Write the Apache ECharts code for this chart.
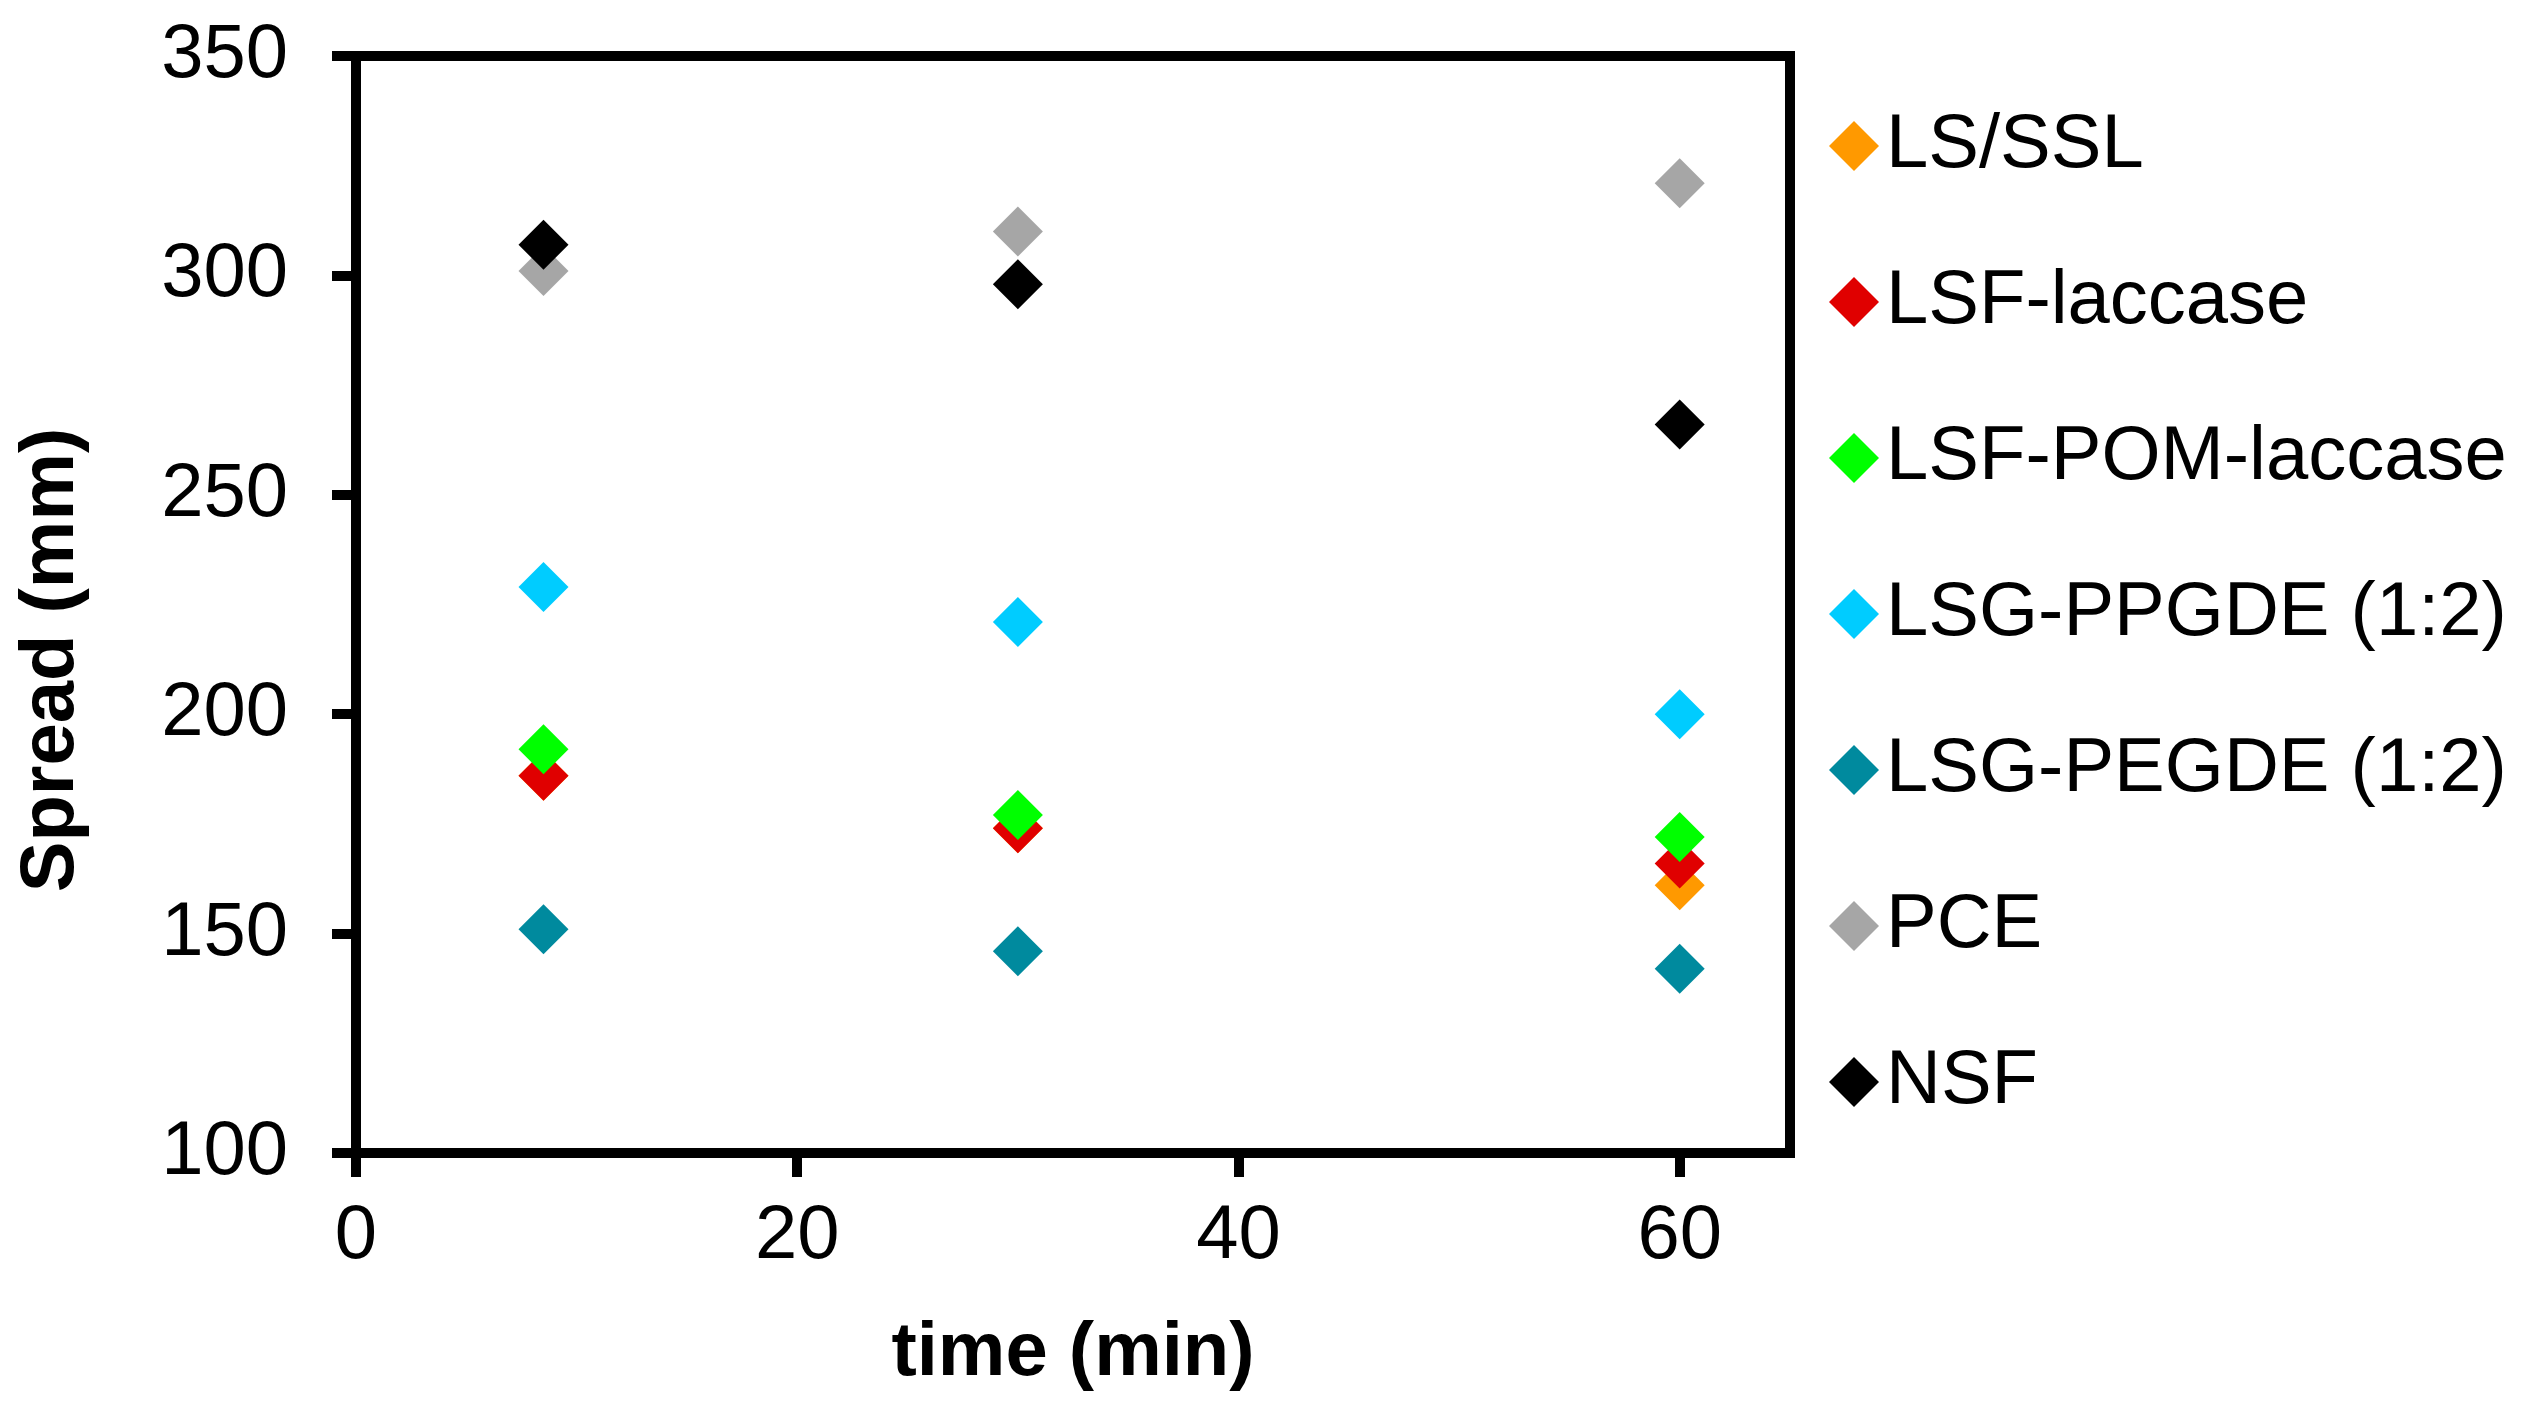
<!DOCTYPE html>
<html>
<head>
<meta charset="utf-8">
<script src="https://cdn.jsdelivr.net/npm/echarts@6/dist/echarts.min.js"></script>
<style>
  html, body { margin: 0; padding: 0; background: #fff; }
  #chart { width: 2537px; height: 1419px; }
</style>
</head>
<body>
<div id="chart"></div>
<script>
// time points (min)
const times = [8.5, 30, 60];

// spread (mm) per mix, one value per time point
const seriesNames = [
  "LS/SSL",
  "LSF-laccase",
  "LSF-POM-laccase",
  "LSG-PPGDE (1:2)",
  "LSG-PEGDE (1:2)",
  "PCE",
  "NSF",
];
const lsSsl = [186, 174, 161];
const lsfLaccase = [186, 174, 166];
const lsfPomLaccase = [192, 177, 172];
const lsgPpgde = [229, 221, 200];
const lsgPegde = [151, 146, 142];
const pce = [301, 310, 321];
const nsf = [307, 298, 266];

const colors = ["#FF9900", "#E00000", "#00FF00", "#00CCFF", "#008A9E", "#A6A6A6", "#000000"];
const xTicks = [0, 20, 40, 60];

var chartDom = document.getElementById("chart");
var myChart = echarts.init(chartDom);
var option;

const allValues = [lsSsl, lsfLaccase, lsfPomLaccase, lsgPpgde, lsgPegde, pce, nsf];
const font = "Liberation Sans, Arial, sans-serif";

option = {
  backgroundColor: "#fff",
  animation: false,
  textStyle: { fontFamily: font },
  grid: {
    left: 356,
    top: 56,
    width: 1434,
    height: 1097,
    show: true,
    borderColor: "#000",
    borderWidth: 10,
  },
  legend: {
    orient: "vertical",
    left: 1824,
    top: 103,
    itemWidth: 50,
    itemHeight: 50,
    itemGap: 80,
    icon: "diamond",
    data: seriesNames,
    textStyle: {
      fontSize: 76,
      fontFamily: font,
      color: "#000",
      lineHeight: 76,
      padding: [0, 0, 0, 2],
    },
  },
  xAxis: {
    type: "value",
    min: 0,
    max: 65,
    interval: 20,
    splitLine: { show: false },
    axisLine: { show: true, lineStyle: { color: "#000", width: 10 } },
    axisTick: {
      show: true,
      length: 24,
      customValues: xTicks,
      lineStyle: { color: "#000", width: 10 },
    },
    axisLabel: {
      customValues: xTicks,
      fontSize: 76,
      color: "#000",
      margin: 46,
      fontFamily: font,
    },
  },
  yAxis: {
    type: "value",
    min: 100,
    max: 350,
    interval: 50,
    splitLine: { show: false },
    axisLine: { show: true, lineStyle: { color: "#000", width: 10 } },
    axisTick: { show: true, length: 24, lineStyle: { color: "#000", width: 10 } },
    axisLabel: {
      fontSize: 76,
      color: "#000",
      margin: 68,
      fontFamily: font,
    },
  },
  graphic: [
    {
      type: "text",
      x: 1073,
      y: 1354,
      style: {
        text: "time (min)",
        font: "bold 76px " + font,
        fill: "#000",
        align: "center",
        verticalAlign: "middle",
      },
    },
    {
      type: "text",
      x: 52,
      y: 660,
      rotation: Math.PI / 2,
      style: {
        text: "Spread (mm)",
        font: "bold 76px " + font,
        fill: "#000",
        align: "center",
        verticalAlign: "middle",
      },
    },
  ],
  series: seriesNames.map((name, i) => ({
    name: name,
    type: "scatter",
    symbol: "diamond",
    symbolSize: 50,
    itemStyle: { color: colors[i], opacity: 1 },
    data: times.map((t, j) => [t, allValues[i][j]]),
  })),
};

option && myChart.setOption(option);
</script>
</body>
</html>
